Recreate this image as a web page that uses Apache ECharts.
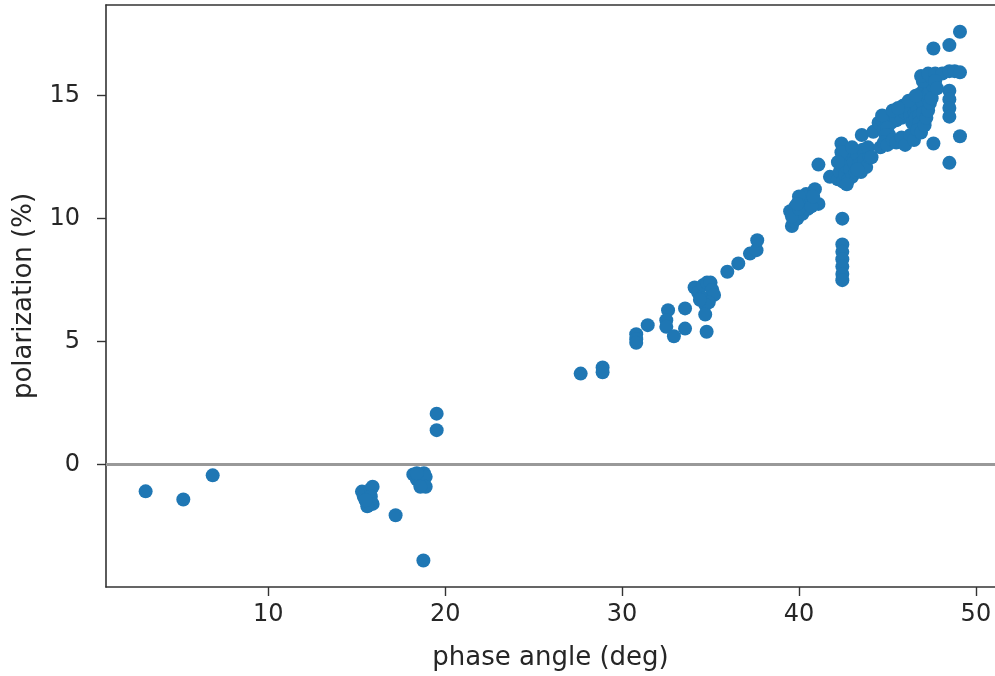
<!DOCTYPE html>
<html>
<head>
<meta charset="utf-8">
<script src="https://cdn.jsdelivr.net/npm/echarts@6/dist/echarts.min.js"></script>
<style>
    html, body { margin: 0; padding: 0; background: #fff; }
    #chart { width: 995px; height: 676px; }
</style>
</head>
<body>
<div id="chart"></div>
<script>
let phaseAngle = [
    3.07, 5.2, 6.86,
    15.3, 15.4, 15.5, 15.6, 15.7, 15.8, 15.9, 15.8, 15.9, 15.6, 15.5,
    17.2, 18.77,
    18.2, 18.4, 18.5, 18.6, 18.8, 18.9, 18.9, 18.6, 18.4,
    19.52, 19.52,
    27.66, 28.9, 28.9,
    30.8, 30.8, 30.8, 31.45,
    32.6, 32.5, 32.5, 32.93, 33.56, 33.56,
    34.1, 34.3, 34.5, 34.6, 34.8, 35.0, 35.1, 35.2, 34.9, 34.7, 34.4, 34.7, 34.78,
    35.95, 36.57, 37.23, 37.6, 37.64,
    39.6, 39.7, 39.5, 39.8, 39.9, 40.1, 40.2, 40.3, 40.4, 40.5, 40.6, 40.9, 41.1,
    39.6, 40.0, 40.3, 40.7, 40.0, 39.9, 40.8,
    41.1, 41.75, 42.4,
    42.45, 42.45, 42.45, 42.45, 42.45, 42.45, 42.45,
    42.2, 42.3, 42.4, 42.5, 42.6, 42.6, 42.7, 42.8, 42.9, 42.9, 43.0, 43.1, 43.2,
    43.3, 43.4, 43.5, 43.6, 43.7, 43.8, 43.9, 44.0, 42.4, 42.2, 43.0, 42.7, 43.3,
    43.55, 44.2, 44.1,
    44.5, 44.7, 44.9, 45.1, 45.2, 45.4, 45.5, 45.7, 45.8, 46.0, 46.1, 46.3, 46.4,
    46.5, 46.6, 46.7, 46.8, 46.9, 47.0, 47.1, 47.2, 47.3, 47.4, 47.5, 47.6, 47.0, 47.4,
    44.7, 45.3, 45.9, 46.2, 46.6, 45.6,
    44.8, 45.0, 46.4, 46.6, 46.8, 45.1, 44.9, 46.8, 47.0,
    44.6, 44.8, 45.0, 45.3, 45.5, 45.8, 46.0, 46.3, 46.5, 46.7, 46.9, 47.1, 47.2,
    47.3, 47.4, 47.5,
    47.6, 49.1, 48.5, 48.5, 48.5, 48.5, 48.5,
    49.1, 47.6, 48.5,
    46.9, 47.3, 47.7, 48.1, 48.5, 48.8, 49.1, 47.7, 47.8
]
let polarization = [
    -1.09, -1.42, -0.44,
    -1.1, -1.3, -1.2, -1.5, -1.6, -1.0, -0.9, -1.3, -1.6, -1.7, -1.45,
    -2.06, -3.9,
    -0.4, -0.6, -0.5, -0.8, -0.35, -0.5, -0.9, -0.9, -0.35,
    2.07, 1.4,
    3.7, 3.95, 3.75,
    5.3, 5.1, 4.95, 5.67,
    6.28, 5.87, 5.6, 5.22, 6.35, 5.53,
    7.2, 7.0, 6.8, 7.3, 7.4, 7.4, 7.1, 6.9, 6.6, 6.5, 6.7, 6.1, 5.4,
    7.84, 8.18, 8.58, 8.72, 9.12,
    9.7, 9.9, 10.3, 10.5, 10.0, 10.7, 10.2, 10.5, 11.0, 10.4, 10.8, 11.2, 10.6,
    10.1, 10.4, 10.9, 10.5, 10.9, 10.6, 10.9,
    12.2, 11.7, 13.06,
    10.0, 8.95, 8.65, 8.35, 8.05, 7.75, 7.5,
    11.6, 11.9, 12.2, 11.5, 11.8, 12.4, 12.1, 11.6, 12.0, 12.6, 11.7, 12.3, 11.9,
    12.6, 12.2, 11.9, 12.8, 12.4, 12.1, 12.9, 12.5, 12.7, 12.3, 12.9, 11.4, 12.0,
    13.4, 13.53, 12.5,
    13.9, 14.0, 14.1, 14.2, 13.9, 14.3, 14.0, 14.4, 14.1, 14.3, 14.5, 14.2, 14.6,
    14.4, 14.8, 14.5, 14.9, 15.1, 14.7, 15.3, 15.0, 15.5, 15.2, 15.6, 15.4, 15.6, 15.8,
    14.2, 14.4, 14.6, 14.8, 15.0, 14.5,
    13.6, 13.7, 13.9, 14.1, 14.2, 13.4, 13.4, 13.9, 14.3,
    12.9, 13.1, 13.0, 13.2, 13.1, 13.3, 13.0, 13.4, 13.2, 13.6, 13.5, 13.8, 14.1,
    14.4, 14.7, 14.9,
    13.06, 13.35, 12.27, 15.2, 14.85, 14.5, 14.15,
    17.6, 16.92, 17.06,
    15.8, 15.9, 15.9, 15.9, 16.0, 16.0, 15.95, 15.6, 15.3
]
let xTicks = [10, 20, 30, 40, 50]
let yTicks = [0, 5, 10, 15]

let points = phaseAngle.map((x, i) => [x, polarization[i]])

let textColor = '#262626'
let font = 'DejaVu Sans'

let option = {
    animation: false,
    grid: {
        left: 106,
        top: 5,
        right: 0,
        bottom: 89
    },
    xAxis: [{
        type: 'value',
        min: 0.83,
        max: 51.08,
        name: 'phase angle (deg)',
        nameLocation: 'middle',
        nameGap: 58,
        nameTextStyle: { color: textColor, fontSize: 26, fontFamily: font },
        axisLine: { onZero: false, lineStyle: { color: '#333', width: 1.6 } },
        axisTick: { customValues: xTicks, length: 9, lineStyle: { color: '#333', width: 1.4 } },
        axisLabel: { customValues: xTicks, margin: 16, color: textColor, fontSize: 24, fontFamily: font },
        splitLine: { show: false }
    }, {
        // top spine
        type: 'value',
        position: 'top',
        min: 0.83,
        max: 51.08,
        axisLine: { onZero: false, lineStyle: { color: '#333', width: 1.6 } },
        axisTick: { show: false },
        axisLabel: { show: false },
        splitLine: { show: false }
    }],
    yAxis: {
        type: 'value',
        min: -4.98,
        max: 18.69,
        name: 'polarization (%)',
        nameLocation: 'middle',
        nameRotate: 90,
        nameGap: 69,
        nameTextStyle: { color: textColor, fontSize: 26, fontFamily: font },
        axisLine: { onZero: false, lineStyle: { color: '#333', width: 1.6 } },
        axisTick: { customValues: yTicks, length: 9, lineStyle: { color: '#333', width: 1.4 } },
        axisLabel: { customValues: yTicks, margin: 26, color: textColor, fontSize: 24, fontFamily: font },
        splitLine: { show: false }
    },
    series: [{
        type: 'scatter',
        data: points,
        symbolSize: 14,
        itemStyle: { color: '#1f77b4', opacity: 1 },
        markLine: {
            silent: true,
            symbol: 'none',
            label: { show: false },
            lineStyle: { color: '#999', width: 3, type: 'solid' },
            data: [{ yAxis: 0 }]
        }
    }]
}

var myChart = echarts.init(document.getElementById('chart'))
myChart.setOption(option)
</script>
</body>
</html>
